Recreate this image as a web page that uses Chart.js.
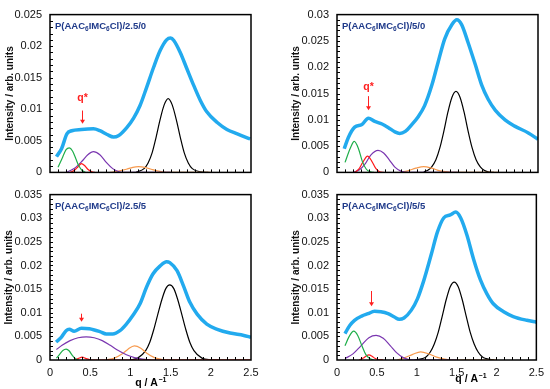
<!DOCTYPE html>
<html>
<head>
<meta charset="utf-8">
<script src="https://cdn.jsdelivr.net/npm/chart.js@4.4.1/dist/chart.umd.min.js"></script>
<style>
  body { margin: 0; background: #fff; }
  #wrap { position: relative; width: 550px; height: 389px; overflow: hidden; }
  canvas { position: absolute; }
</style>
</head>
<body>
<div id="wrap">
  <canvas id="p1" width="275" height="187" style="left:0;top:0"></canvas>
  <canvas id="p2" width="275" height="187" style="left:275px;top:0"></canvas>
  <canvas id="p3" width="275" height="209" style="left:0;top:180px"></canvas>
  <canvas id="p4" width="275" height="209" style="left:275px;top:180px"></canvas>
</div>
<script>
// [q, intensity] pairs
const sampleNames = ['2.5/0', '5/0', '2.5/5', '5/5'];
const yMaxes = [0.025, 0.03, 0.035, 0.035];

// --- P(AAC6IMC6Cl)/2.5/0
const blue1 = [[0.08,0.0025],[0.145,0.0038],[0.21,0.0061],[0.27,0.0066],[0.39,0.0068],[0.54,0.0069],[0.62,0.0066],[0.71,0.006],[0.79,0.0056],[0.85,0.0058],[0.955,0.0071],[1.04,0.0086],[1.12,0.0106],[1.2,0.0134],[1.29,0.0167],[1.37,0.0193],[1.45,0.021],[1.5,0.0213],[1.54,0.0209],[1.62,0.019],[1.7,0.0165],[1.79,0.0137],[1.87,0.0114],[1.95,0.0096],[2.08,0.0079],[2.2,0.0068],[2.33,0.0061],[2.49,0.0053]];
const green1 = [[0.1,0.0008],[0.15,0.0022],[0.2,0.0036],[0.24,0.0039],[0.28,0.0034],[0.32,0.0022],[0.36,0.001],[0.4,0.0003],[0.44,0]];
const red1 = [[0.25,0],[0.3,0.0003],[0.35,0.0009],[0.39,0.0014],[0.43,0.0011],[0.47,0.0005],[0.52,0.0001],[0.56,0]];
const purple1 = [[0.2,0],[0.3,0.0006],[0.4,0.0018],[0.47,0.0028],[0.54,0.0033],[0.62,0.0028],[0.7,0.0016],[0.78,0.0006],[0.86,0.0001],[0.95,0],[1.5,0]];
const orange1 = [[0.75,0],[0.85,0.0002],[0.95,0.0005],[1.03,0.0008],[1.1,0.0009],[1.18,0.0008],[1.26,0.0005],[1.35,0.0002],[1.45,0],[2.0,0]];
const black1 = [[1.07,0],[1.17,0.0006],[1.22,0.0015],[1.27,0.0031],[1.32,0.0056],[1.37,0.0084],[1.42,0.0107],[1.47,0.0117],[1.52,0.0107],[1.57,0.0084],[1.62,0.0056],[1.67,0.0031],[1.72,0.0015],[1.77,0.0006],[1.87,0.0001],[1.97,0]];

// --- P(AAC6IMC6Cl)/5/0
const blue2 = [[0.09,0.0045],[0.14,0.0066],[0.22,0.0086],[0.31,0.0091],[0.39,0.0103],[0.47,0.0097],[0.56,0.0092],[0.64,0.0085],[0.72,0.0077],[0.78,0.0074],[0.85,0.0078],[0.93,0.0091],[1.01,0.0106],[1.09,0.0127],[1.18,0.0166],[1.26,0.0211],[1.34,0.0254],[1.43,0.0281],[1.49,0.029],[1.55,0.0281],[1.63,0.0247],[1.72,0.0205],[1.8,0.0166],[1.88,0.0139],[1.97,0.0118],[2.09,0.01],[2.21,0.0088],[2.38,0.0075],[2.5,0.0063]];
const green2 = [[0.1,0.0019],[0.165,0.0046],[0.215,0.0059],[0.265,0.0046],[0.315,0.0021],[0.365,0.0006],[0.415,0.0001],[0.46,0]];
const red2 = [[0.22,0],[0.27,0.0006],[0.32,0.0019],[0.38,0.0031],[0.43,0.0022],[0.48,0.0008],[0.53,0.0001],[0.58,0]];
const purple2 = [[0.2,0],[0.28,0.0005],[0.35,0.0016],[0.42,0.0033],[0.51,0.0042],[0.58,0.0037],[0.65,0.0024],[0.72,0.001],[0.8,0.0002],[0.88,0],[1.5,0]];
const orange2 = [[0.78,0],[0.88,0.0003],[0.98,0.0008],[1.08,0.0011],[1.18,0.0008],[1.28,0.0003],[1.38,0.0001],[1.45,0],[2.0,0]];
const black2 = [[1.08,0.0001],[1.13,0.0004],[1.18,0.0011],[1.23,0.0024],[1.28,0.0047],[1.33,0.0079],[1.38,0.0115],[1.43,0.0143],[1.48,0.0154],[1.53,0.0143],[1.58,0.0115],[1.63,0.0079],[1.68,0.0047],[1.73,0.0024],[1.78,0.0011],[1.83,0.0004],[1.88,0.0001],[1.95,0]];

// --- P(AAC6IMC6Cl)/2.5/5
const blue3 = [[0.075,0.0038],[0.14,0.0048],[0.2,0.0062],[0.24,0.0065],[0.3,0.0061],[0.39,0.0067],[0.49,0.0066],[0.62,0.006],[0.7,0.0055],[0.78,0.0055],[0.87,0.0062],[0.95,0.0076],[1.03,0.0094],[1.12,0.0119],[1.2,0.0154],[1.28,0.0182],[1.37,0.0199],[1.45,0.0208],[1.49,0.0206],[1.58,0.0189],[1.66,0.0157],[1.74,0.0122],[1.83,0.0097],[1.95,0.0076],[2.08,0.0065],[2.24,0.0057],[2.41,0.0052],[2.5,0.0048]];
const green3 = [[0.08,0.0004],[0.12,0.0012],[0.16,0.002],[0.2,0.0023],[0.24,0.0019],[0.28,0.0009],[0.32,0.0002],[0.36,0]];
const red3 = [[0.3,0],[0.35,0.0003],[0.4,0.0006],[0.45,0.0003],[0.5,0.00005],[0.55,0],[2.5,0]];
const purple3 = [[0.08,0.0022],[0.15,0.0031],[0.25,0.0041],[0.35,0.0047],[0.45,0.0049],[0.55,0.0047],[0.65,0.0041],[0.75,0.0031],[0.85,0.002],[0.95,0.0011],[1.05,0.0005],[1.15,0.0002],[1.25,0]];
const orange3 = [[0.7,0],[0.8,0.0004],[0.9,0.0013],[0.97,0.0023],[1.05,0.003],[1.13,0.0025],[1.2,0.0015],[1.3,0.0005],[1.4,0.0001],[1.5,0],[2.5,0]];
const black3 = [[0.99,0],[1.09,0.0004],[1.19,0.002],[1.24,0.0037],[1.29,0.0064],[1.34,0.0096],[1.39,0.0127],[1.44,0.0151],[1.49,0.0159],[1.54,0.0151],[1.59,0.0127],[1.64,0.0096],[1.69,0.0064],[1.74,0.0037],[1.79,0.002],[1.89,0.0004],[1.99,0.00005],[2.1,0]];

// --- P(AAC6IMC6Cl)/5/5
const blue4 = [[0.1,0.0056],[0.16,0.0073],[0.22,0.0084],[0.31,0.0093],[0.39,0.0098],[0.47,0.0103],[0.55,0.0102],[0.64,0.0098],[0.72,0.0091],[0.78,0.0086],[0.84,0.0089],[0.93,0.0105],[1.01,0.013],[1.09,0.0169],[1.18,0.0222],[1.26,0.0271],[1.34,0.0301],[1.42,0.0307],[1.49,0.0313],[1.55,0.0301],[1.63,0.0264],[1.71,0.0215],[1.8,0.0169],[1.88,0.014],[1.96,0.0119],[2.09,0.0102],[2.21,0.0092],[2.38,0.0084],[2.5,0.008]];
const green4 = [[0.1,0.003],[0.15,0.0049],[0.21,0.0061],[0.26,0.0052],[0.31,0.0031],[0.36,0.0012],[0.41,0.0003],[0.46,0]];
const red4 = [[0.28,0],[0.33,0.0004],[0.37,0.0009],[0.4,0.0011],[0.44,0.0008],[0.48,0.0003],[0.53,0.00005],[0.58,0]];
const purple4 = [[0.1,0.0003],[0.2,0.0013],[0.3,0.003],[0.4,0.0047],[0.49,0.0052],[0.58,0.0046],[0.67,0.003],[0.75,0.0015],[0.83,0.0005],[0.9,0.0001],[1.0,0],[1.5,0]];
const orange4 = [[0.75,0],[0.85,0.0005],[0.95,0.0012],[1.05,0.0017],[1.15,0.0013],[1.25,0.0006],[1.35,0.0002],[1.45,0],[2.0,0]];
const black4 = [[0.97,0],[1.07,0.0003],[1.12,0.0007],[1.17,0.0017],[1.22,0.0034],[1.27,0.0059],[1.32,0.0093],[1.37,0.0128],[1.42,0.0155],[1.47,0.0165],[1.52,0.0155],[1.57,0.0128],[1.62,0.0093],[1.67,0.0059],[1.72,0.0034],[1.77,0.0017],[1.82,0.0007],[1.87,0.0003],[1.97,0]];

// q* marker: q position, arrow top / head intensity, label intensity (null = no label)
const markers = [
  { q: 0.40, top: 0.0098, head: 0.0077, label: 0.0117 },
  { q: 0.39, top: 0.0145, head: 0.0118, label: 0.0162 },
  { q: 0.39, top: 0.0098, head: 0.0081, label: null },
  { q: 0.43, top: 0.0146, head: 0.0114, label: null }
];

const FONT = "'Liberation Sans', Arial, sans-serif";
const COL = { blue: '#22aaee', green: '#1fae4a', red: '#ff1a1a', purple: '#7a36b0', orange: '#f79a4e', black: '#000000' };
const fmt = v => String(Math.round(v * 1000) / 1000);

// frame, inward minor ticks, sample name, q* arrow, x title
const decoPlugin = {
  id: 'deco',
  afterDatasetsDraw(chart, args, o) {
    const { ctx, chartArea: a, scales: { x, y } } = chart;
    ctx.save();
    ctx.strokeStyle = '#000';
    ctx.lineWidth = 1;
    ctx.beginPath();
    for (let k = 1; k < 25; k++) {
      const px = Math.round(x.getPixelForValue(k / 10)) + 0.5;
      ctx.moveTo(px, a.bottom); ctx.lineTo(px, a.bottom - 3);
    }
    for (let k = 1; k < Math.round(y.max * 1000); k++) {
      const py = Math.round(y.getPixelForValue(k / 1000)) + 0.5;
      ctx.moveTo(a.left, py); ctx.lineTo(a.left + 3, py);
    }
    ctx.stroke();
    ctx.lineWidth = 1.5;
    ctx.strokeRect(a.left, a.top, a.right - a.left, a.bottom - a.top);

    // sample name with subscripts
    const parts = [['P(AAC', 0], ['6', 1], ['IMC', 0], ['6', 1], ['Cl)/' + o.name, 0]];
    let tx = a.left + 5;
    const ty = a.top + 14;
    ctx.fillStyle = '#1f3a8a';
    ctx.textBaseline = 'alphabetic';
    ctx.textAlign = 'left';
    parts.forEach(([t, sub]) => {
      ctx.font = 'bold ' + (sub ? 6.5 : 9.5) + 'px ' + FONT;
      ctx.fillText(t, tx, ty + (sub ? 2.5 : 0));
      tx += ctx.measureText(t).width;
    });

    // q* arrow
    const m = o.marker;
    const mx = Math.round(x.getPixelForValue(m.q)) + 0.5;
    const y0 = y.getPixelForValue(m.top), y1 = y.getPixelForValue(m.head);
    ctx.strokeStyle = '#ff2020';
    ctx.fillStyle = '#ff2020';
    ctx.lineWidth = 1;
    ctx.beginPath(); ctx.moveTo(mx, y0); ctx.lineTo(mx, y1 - 3); ctx.stroke();
    ctx.beginPath(); ctx.moveTo(mx - 2.5, y1 - 4); ctx.lineTo(mx + 2.5, y1 - 4); ctx.lineTo(mx, y1); ctx.closePath(); ctx.fill();
    if (m.label !== null) {
      ctx.font = 'bold 10.5px ' + FONT;
      ctx.textAlign = 'center';
      ctx.textBaseline = 'middle';
      ctx.fillText('q*', mx, y.getPixelForValue(m.label));
    }

    // x axis title "q / A-1"
    if (o.xTitle) {
      ctx.fillStyle = '#000';
      ctx.textBaseline = 'alphabetic';
      ctx.textAlign = 'left';
      ctx.font = 'bold 10.5px ' + FONT;
      const main = 'q / A';
      const w1 = ctx.measureText(main).width;
      ctx.font = 'bold 7px ' + FONT;
      const w2 = ctx.measureText('\u22121').width;
      const cx = (a.left + a.right) / 2 + o.xTitle.shift;
      const by = a.bottom + o.xTitle.dy;
      const sx = cx - (w1 + w2) / 2;
      ctx.font = 'bold 10.5px ' + FONT;
      ctx.fillText(main, sx, by);
      ctx.font = 'bold 7px ' + FONT;
      ctx.fillText('\u22121', sx + w1 + 0.5, by - 4.5);
    }
    ctx.restore();
  }
};

function panel(id, i, series, geo) {
  const colors = [COL.blue, COL.green, COL.red, COL.purple, COL.orange, COL.black];
  new Chart(document.getElementById(id), {
    type: 'line',
    data: {
      datasets: series.map((pts, k) => ({
        data: pts.map(([q, v]) => ({ x: q, y: v })),
        borderColor: colors[k],
        borderWidth: k === 0 ? 3.5 : 1.2,
        pointRadius: 0,
        cubicInterpolationMode: 'monotone',
        fill: false
      }))
    },
    options: {
      responsive: false,
      animation: false,
      events: [],
      layout: { padding: geo.pad },
      plugins: {
        legend: { display: false },
        tooltip: { enabled: false },
        deco: { name: sampleNames[i], marker: markers[i], xTitle: geo.xTitle }
      },
      scales: {
        x: {
          type: 'linear', min: 0, max: 2.5,
          grid: { display: false, drawTicks: false },
          border: { display: false },
          ticks: {
            display: geo.xLabels, stepSize: 0.5, padding: 6, maxRotation: 0, autoSkip: false,
            color: '#111', font: { family: FONT, size: 11 }, callback: fmt
          },
          afterFit: s => { s.height = geo.xHeight; }
        },
        y: {
          type: 'linear', min: 0, max: yMaxes[i],
          grid: { display: false, drawTicks: false },
          border: { display: false },
          ticks: { stepSize: 0.005, padding: 8, color: '#111', font: { family: FONT, size: 11 }, callback: fmt },
          title: {
            display: true, text: 'Intensity / arb. units', color: '#111',
            font: { family: FONT, size: 10, weight: 'bold' },
            padding: { top: geo.titlePad, bottom: 0 }
          },
          afterFit: s => { s.width = geo.yWidth; }
        }
      }
    },
    plugins: [decoPlugin]
  });
}

panel('p1', 0, [blue1, green1, red1, purple1, orange1, black1],
  { pad: { top: 12, right: 24, bottom: 10, left: 0 }, yWidth: 50, xHeight: 0, xLabels: false, titlePad: 4, xTitle: null });
panel('p2', 1, [blue2, green2, red2, purple2, orange2, black2],
  { pad: { top: 12, right: 12, bottom: 10, left: 0 }, yWidth: 62, xHeight: 0, xLabels: false, titlePad: 15, xTitle: null });
panel('p3', 2, [blue3, green3, red3, purple3, orange3, black3],
  { pad: { top: 13, right: 24, bottom: 0, left: 0 }, yWidth: 50, xHeight: 29, xLabels: true, titlePad: 3, xTitle: { shift: 0, dy: 26 } });
panel('p4', 3, [blue4, green4, red4, purple4, orange4, black4],
  { pad: { top: 13, right: 12, bottom: 0, left: 0 }, yWidth: 62, xHeight: 29, xLabels: true, titlePad: 15, xTitle: { shift: 34, dy: 22 } });
</script>
</body>
</html>
